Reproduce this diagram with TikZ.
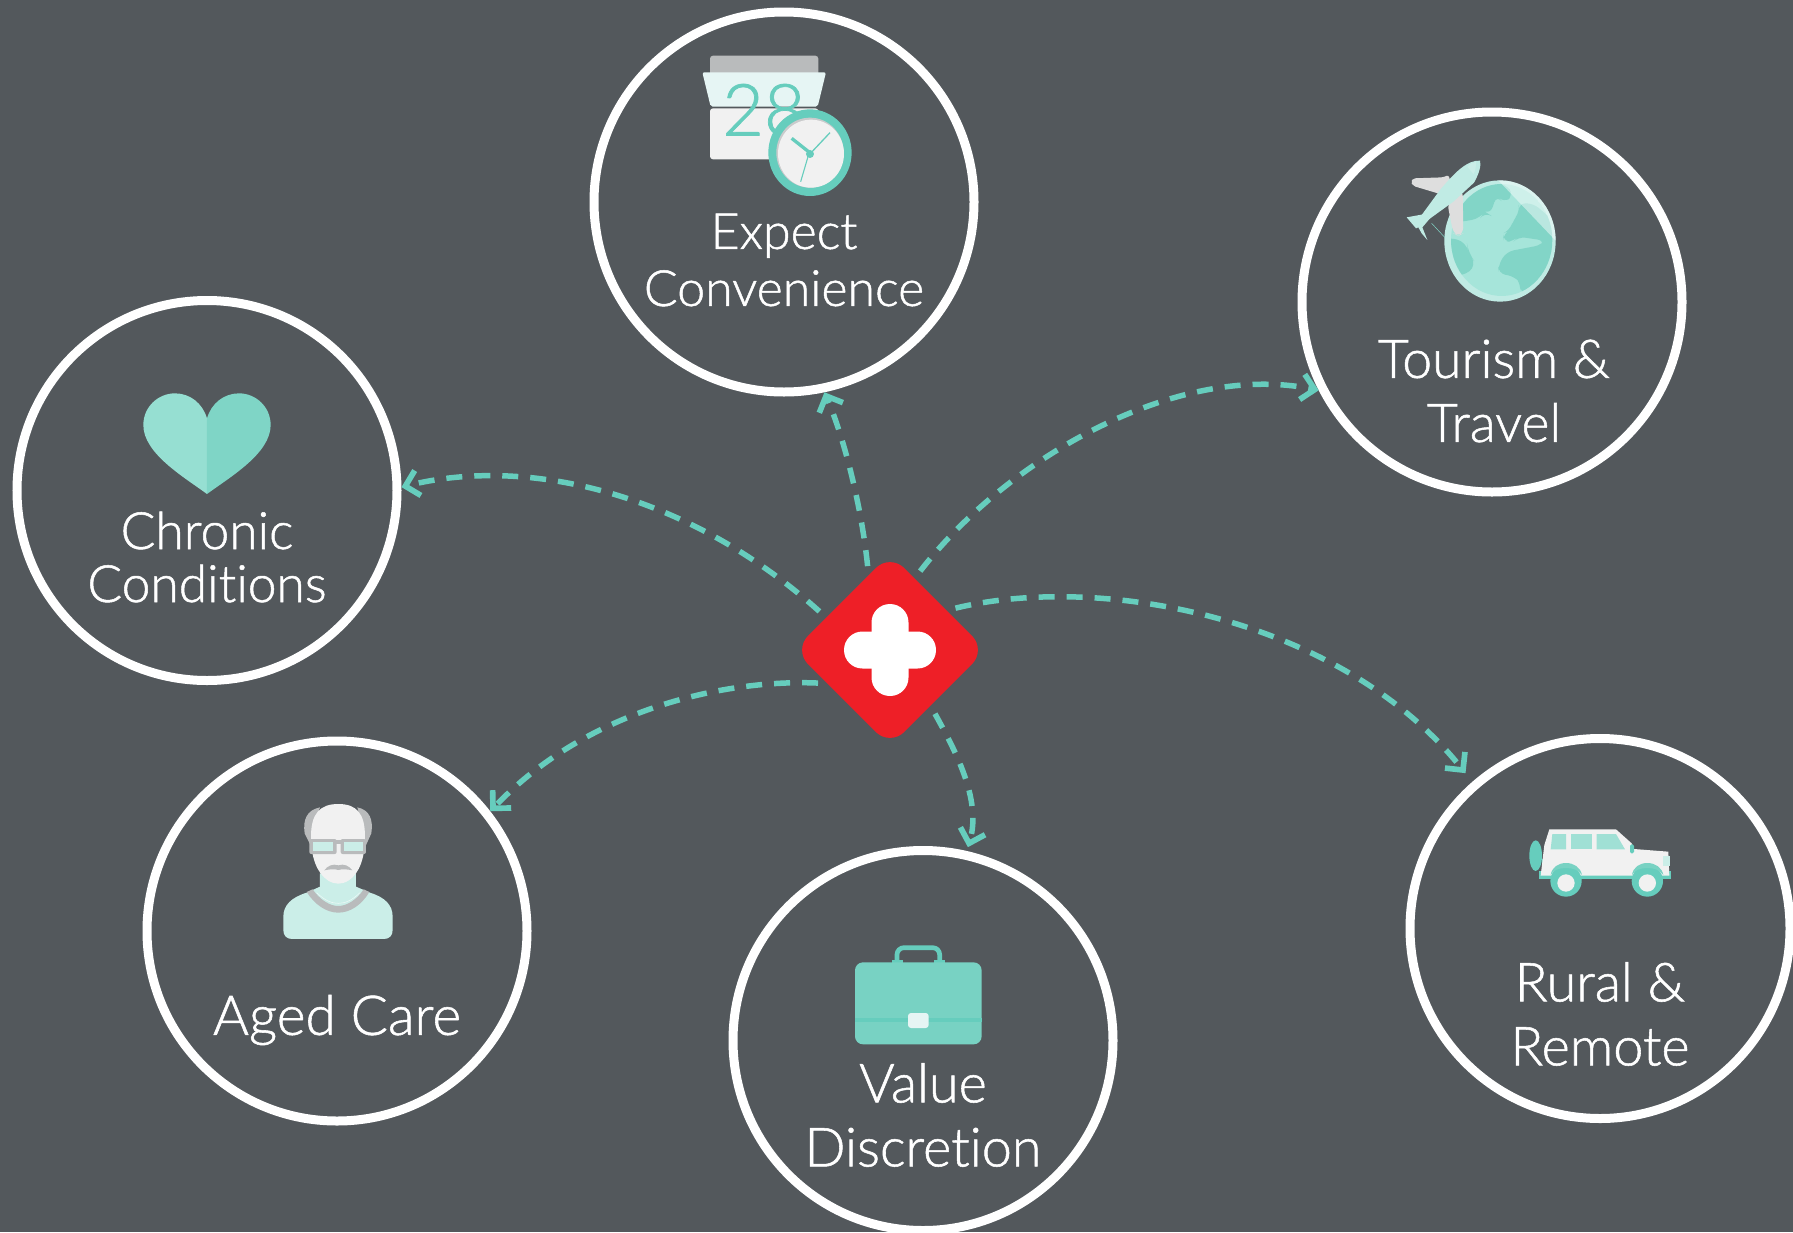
\documentclass[tikz,border=0pt]{standalone}
\usepackage{fontspec}
\setmainfont{Lato Light}[FakeBold=1,Ligatures=NoCommon]
\usetikzlibrary{arrows.meta}
\definecolor{bg}{HTML}{53585C}
\definecolor{teal}{HTML}{66CDBD}
\definecolor{tealb}{HTML}{78D2C3}
\definecolor{heartl}{HTML}{96DFD2}
\definecolor{heartr}{HTML}{7FD5C6}
\definecolor{pale}{HTML}{CBEEE8}
\definecolor{paler}{HTML}{E6F5F4}
\definecolor{offw}{HTML}{F1F1F1}
\definecolor{gry}{HTML}{B9BBBC}
\definecolor{wing}{HTML}{DEDEDE}
\definecolor{globe}{HTML}{A6E5DA}
\definecolor{land}{HTML}{82D5C7}
\definecolor{win}{HTML}{A0E0D5}
\definecolor{hubred}{HTML}{EE1F27}
\pgfdeclarearrow{
  name = Chev,
  setup code = {
    \pgfarrowssettipend{0pt}
    \pgfarrowssetlineend{-7pt}
    \pgfarrowssetvisualbackend{-7pt}
    \pgfarrowssetbackend{-18.85pt}
  },
  drawing code = {
    \pgfsetfillcolor{teal}
    \pgfpathmoveto{\pgfqpoint{0pt}{0pt}}
    \pgfpathlineto{\pgfqpoint{-14.85pt}{14.85pt}}
    \pgfpathlineto{\pgfqpoint{-18.85pt}{10.85pt}}
    \pgfpathlineto{\pgfqpoint{-8pt}{0pt}}
    \pgfpathlineto{\pgfqpoint{-18.85pt}{-10.85pt}}
    \pgfpathlineto{\pgfqpoint{-14.85pt}{-14.85pt}}
    \pgfpathclose
    \pgfusepathqfill
  },
  parameters = {}
}
\tikzset{
  ring/.style={circle,draw=white,line width=9pt,minimum size=380pt,inner sep=0pt},
  lab/.style={text=white,align=center,inner sep=0pt},
  flow/.style={draw=teal,line width=5.5pt,dash pattern=on 16pt off 12pt,shorten <=9pt,-{Chev}},
  icon/.style={x=.3333pt,y=-.3333pt},
}
\begin{document}
\begin{tikzpicture}[x=1pt,y=-1pt]
\useasboundingbox (0,0) rectangle (1793,1232);
\fill[bg] (0,0) rectangle (1793,1232);

% circles
\node[ring] (c1) at (784,202) {};
\node[ring] (c2) at (1492,302) {};
\node[ring] (c3) at (207,490.5) {};
\node[ring] (c4) at (337,931) {};
\node[ring] (c5) at (923,1040.5) {};
\node[ring] (c6) at (1600,928.5) {};

% hub
\node[rotate=45,fill=hubred,draw=none,rounded corners=20pt,minimum size=136pt,inner sep=0pt] (hub) at (890,650) {};
\fill[white,rounded corners=18.4pt] (871.5,604) rectangle (908.5,696);
\fill[white,rounded corners=18.4pt] (844,631.5) rectangle (936,668.5);

% connectors
\draw[flow] (hub.61) .. controls (862,510) and (845,440) .. (c1.-78.5);
\draw[flow] (hub.26.6) .. controls (1010,455) and (1180,362) .. (c2.207);
\draw[flow] (hub.108.4) .. controls (690,495) and (530,455) .. (c3.1);
\draw[flow] (hub.163) .. controls (730,679) and (590,707) .. (c4.38);
\draw[flow,shorten >=4pt] (hub.-99.6) .. controls (955,750) and (982,800) .. (c5.77);
\draw[flow,shorten >=11pt] (hub.-10) .. controls (1100,573) and (1340,617) .. (c6.131.7);

% labels
\node[lab,font=\fontsize{50}{57}\selectfont] (t1) at (784,260) {Expect\\Convenience};
\node[lab,font=\fontsize{53.5}{64}\selectfont] (t2) at (1494,391) {Tourism \&\\Travel};
\node[lab,font=\fontsize{51.5}{53}\selectfont] (t3) at (207,557) {Chronic\\Conditions};
\node[lab,font=\fontsize{55}{57}\selectfont] (t4) at (337,1020) {Aged Care};
\node[lab,font=\fontsize{54}{64}\selectfont] (t5) at (923,1115) {Value\\Discretion};
\node[lab,font=\fontsize{54}{64}\selectfont] (t6) at (1600,1014) {Rural \&\\Remote};

% calendar and clock
\begin{scope}[shift={(680,40)},icon]
\fill[gry,rounded corners=3pt] (90,47) rectangle (415,110);
\fill[offw,rounded corners=3pt] (90,205) rectangle (415,358);
\fill[paler,rounded corners=2pt] (67,97) -- (438,97) -- (413,200) -- (92,200) -- cycle;
\node[text=teal,font=\fontsize{72}{72}\selectfont,inner sep=0pt] (n28) at (252,210) {28};
\fill[teal] (390,338) ellipse (125 and 130);
\fill[gry!70!offw] (390,338) ellipse (101 and 105);
\fill[offw] (393,341) ellipse (99 and 102);
\draw[teal,line width=3.3pt] (335,295) -- (392,340);
\draw[teal,line width=1.3pt] (450,278) -- (385,347);
\draw[teal,line width=1.1pt] (387,340) -- (362,425);
\fill[teal] (390,342) circle (12);
\end{scope}

% globe and plane
\begin{scope}[shift={(1390,140)},icon]
\fill[pale!70!globe] (330,303) ellipse (167 and 182);
\begin{scope}
\clip (335,300) ellipse (152 and 168);
\fill[globe] (335,300) ellipse (152 and 168);
\fill[land,rounded corners=8pt] (170,248) -- (218,245) -- (270,235) -- (285,215) -- (300,225) -- (320,165) -- (340,190) -- (372,165) -- (345,130) -- (300,130) -- (235,140) -- (170,190) -- cycle;
\fill[land,rounded corners=10pt] (160,290) -- (230,305) -- (235,340) -- (262,375) -- (215,412) -- (160,400) -- cycle;
\fill[land,rounded corners=7pt] (385,190) -- (430,190) -- (500,250) -- (500,460) -- (390,460) -- (392,430) -- (375,410) -- (325,400) -- (325,375) -- (350,335) -- (455,315) -- (465,302) -- (385,290) -- (370,305) -- (340,305) -- (340,280) -- (360,270) -- (370,240) -- (390,215) -- cycle;
\end{scope}
\begin{scope}
\clip (330,303) ellipse (167 and 182);
\fill[white,opacity=.45] (322,118) -- (500,305) -- (520,100) -- cycle;
\end{scope}
\draw[land,line width=.5pt] (125,250) -- (165,293);
\fill[wing,rounded corners=2pt] (160,112) -- (175,105) -- (182,125) -- (160,165) -- (70,138) -- (62,125) -- (70,115) -- cycle;
\fill[wing,rounded corners=6pt] (218,150) -- (220,280) -- (205,288) -- (190,280) -- (172,190) -- cycle;
\fill[pale!70!globe] (50,232) -- (105,222) -- (120,235) -- (97,262) -- (112,300) -- (95,280) -- (85,262) -- (78,265) -- cycle;
\fill[pale!70!globe] (270,62) .. controls (235,60) and (200,90) .. (150,150) -- (95,225) -- (85,262) -- (125,232) -- (190,185) -- (252,128) .. controls (268,100) and (274,75) .. cycle;
\fill[pale] (232,80) .. controls (242,70) and (250,66) .. (258,66) .. controls (258,85) and (255,95) .. (250,102) -- cycle;
\end{scope}

% heart
\begin{scope}[shift={(130,380)},icon]
\fill[heartl] (231,342) .. controls (160,290) and (40,220) .. (40,135) .. controls (40,80) and (85,40) .. (135,40) .. controls (180,40) and (218,70) .. (231,115) -- cycle;
\fill[heartr] (231,342) .. controls (302,290) and (422,220) .. (422,135) .. controls (422,80) and (377,40) .. (327,40) .. controls (282,40) and (244,70) .. (231,115) -- cycle;
\end{scope}

% person
\begin{scope}[shift={(270,790)},icon]
\fill[pale] (150,250) -- (258,250) -- (258,290) -- (300,308) .. controls (345,322) and (368,345) .. (368,380) -- (368,420) .. controls (368,437) and (358,447) .. (342,447) -- (66,447) .. controls (50,447) and (40,437) .. (40,420) -- (40,380) .. controls (40,345) and (65,322) .. (110,308) -- (150,290) -- cycle;
\fill[gry] (110,306) -- (128,298) .. controls (150,330) and (180,348) .. (205,348) .. controls (230,348) and (260,330) .. (281,298) -- (298,306) .. controls (275,345) and (240,368) .. (205,368) .. controls (170,368) and (135,345) .. (110,306) -- cycle;
\draw[white,opacity=.7,line width=.5pt] (140,308) .. controls (165,332) and (185,340) .. (205,340) .. controls (225,340) and (245,332) .. (270,308);
\fill[gry] (150,52) .. controls (110,60) and (98,90) .. (104,130) -- (125,172) -- (135,100) -- cycle;
\fill[gry] (262,52) .. controls (300,60) and (310,90) .. (304,130) -- (285,172) -- (275,100) -- cycle;
\fill[offw] (123,140) .. controls (123,70) and (150,42) .. (205,42) .. controls (260,42) and (285,70) .. (285,140) .. controls (285,200) and (270,250) .. (235,272) .. controls (215,284) and (195,284) .. (175,272) .. controls (140,250) and (123,200) .. (123,140) -- cycle;
\fill[gry,rounded corners=2pt] (118,147) rectangle (200,192);
\fill[gry,rounded corners=2pt] (212,147) rectangle (288,192);
\fill[gry] (198,150) rectangle (214,162);
\fill[pale] (130,156) rectangle (190,183);
\fill[pale] (222,156) rectangle (278,183);
\fill[gry] (163,241) .. controls (172,228) and (188,220) .. (205,226) .. controls (222,220) and (238,228) .. (247,241) .. controls (232,238) and (218,236) .. (205,240) .. controls (192,236) and (178,238) .. (163,241) -- cycle;
\end{scope}

% car
\begin{scope}[shift={(1510,810)},icon]
\fill[teal] (95,148) rectangle (104,170);
\fill[teal] (77,137) ellipse (19 and 46);
\fill[teal] (88,182) rectangle (484,208);
\fill[offw] (118,58) -- (318,58) -- (365,100) -- (372,117) -- (475,125) -- (478,197) -- (92,197) -- (103,105) -- cycle;
\fill[win] (127,72) -- (168,72) -- (168,118) -- (122,118) -- cycle;
\fill[win] (183,72) rectangle (245,118);
\fill[win] (260,72) -- (318,72) -- (345,118) -- (260,118) -- cycle;
\fill[teal,rounded corners=1.5pt] (360,103) rectangle (372,130);
\fill[pale] (460,138) rectangle (480,168);
\fill[teal] (168,213) circle (47);
\fill[teal] (412,213) circle (47);
\fill[tealb] (122,195) .. controls (125,172) and (145,159) .. (168,159) .. controls (191,159) and (212,172) .. (216,195) .. controls (205,180) and (190,174) .. (168,174) .. controls (146,174) and (130,180) .. (122,195) -- cycle;
\fill[tealb] (366,195) .. controls (369,172) and (389,159) .. (412,159) .. controls (435,159) and (456,172) .. (460,195) .. controls (449,180) and (434,174) .. (412,174) .. controls (390,174) and (374,180) .. (366,195) -- cycle;
\fill[offw] (168,219) circle (26);
\fill[offw] (412,219) circle (26);
\end{scope}

% briefcase
\begin{scope}[shift={(840,930)},icon]
\draw[teal,line width=4.7pt,rounded corners=7pt] (171,97) -- (171,53) -- (299,53) -- (299,97);
\fill[teal] (155,90) rectangle (190,100);
\fill[teal] (281,90) rectangle (316,100);
\fill[tealb,rounded corners=8pt] (45,97) rectangle (425,343);
\fill[teal] (45,265) rectangle (425,277);
\fill[paler,rounded corners=3pt] (204,249) rectangle (266,294);
\end{scope}
\end{tikzpicture}
\end{document}
